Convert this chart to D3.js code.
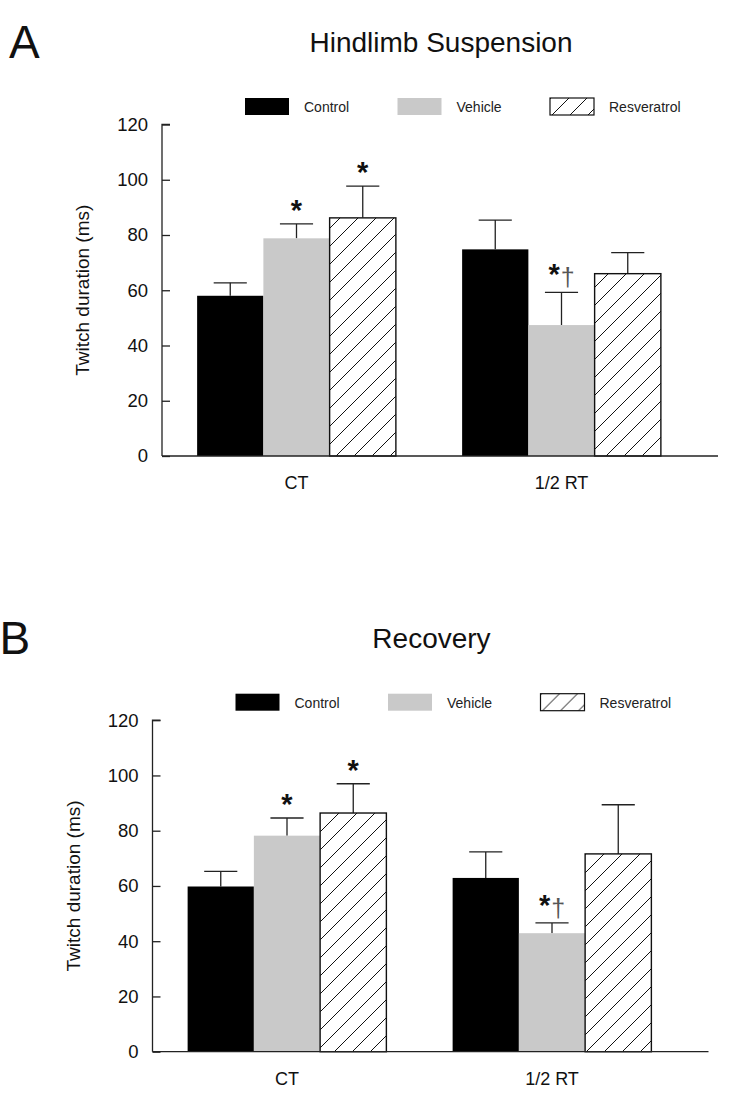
<!DOCTYPE html>
<html>
<head>
<meta charset="utf-8">
<script src="https://cdn.jsdelivr.net/npm/d3@7"></script>
<style>
  html, body { margin: 0; padding: 0; background: #fff; }
  svg { display: block; font-family: "Liberation Sans", Arial, Helvetica, sans-serif; }
</style>
</head>
<body>
<svg id="chart" width="736" height="1101"></svg>
<script>
// ---------- data ----------
const categories = ["CT", "1/2 RT"];
const series = ["Control", "Vehicle", "Resveratrol"];
const yTicks = [0, 20, 40, 60, 80, 100, 120];
const panelLetters = ["A", "B"];
const panelTitles = ["Hindlimb Suspension", "Recovery"];
const yLabel = "Twitch duration (ms)";

// Hindlimb Suspension: rows = categories, columns = series
const hsMeans  = [[58.0, 78.8, 86.2], [74.8, 47.4, 66.0]];
const hsErrors = [[4.7, 5.2, 11.5], [10.6, 11.8, 7.6]];
const hsMarks  = [["", "*", "*"], ["", "*†", ""]];

// Recovery
const recMeans  = [[59.8, 78.2, 86.4], [62.9, 42.9, 71.6]];
const recErrors = [[5.5, 6.4, 10.6], [9.4, 3.7, 17.8]];
const recMarks  = [["", "*", "*"], ["", "*†", ""]];

// ---------- drawing ----------
const svg = d3.select("#chart");
const defs = svg.append("defs");
const pat = defs.append("pattern")
  .attr("id", "hatch").attr("patternUnits", "userSpaceOnUse")
  .attr("width", 18).attr("height", 18);
pat.append("rect").attr("width", 18).attr("height", 18).attr("fill", "#fff");
pat.append("path")
  .attr("d", "M0,18 L18,0 M-4.5,4.5 L4.5,-4.5 M13.5,22.5 L22.5,13.5")
  .attr("stroke", "#111").attr("stroke-width", 1);

const fills = { "Control": "#000", "Vehicle": "#c9c9c9", "Resveratrol": "url(#hatch)" };
const strokes = { "Control": "none", "Vehicle": "none", "Resveratrol": "#111" };

const panels = [
  { letter: panelLetters[0], title: panelTitles[0], means: hsMeans, errors: hsErrors, marks: hsMarks, ax: 162, y0: 456 },
  { letter: panelLetters[1], title: panelTitles[1], means: recMeans, errors: recErrors, marks: recMarks, ax: 152.5, y0: 1051.7 }
];

const axisColor = "#222";

panels.forEach(p => {
  const g = svg.append("g");
  const y = d3.scaleLinear().domain([0, 120]).range([p.y0, p.y0 - 331.5]);
  const x0 = d3.scaleBand().domain(categories).range([p.ax + 2, p.ax + 532])
    .paddingInner(0.25).paddingOuter(0.125);
  const x1 = d3.scaleBand().domain(series).range([0, x0.bandwidth()]).padding(0);

  // panel letter and title
  g.append("text").attr("x", p.ax - 153).attr("y", p.y0 - 398)
    .attr("font-size", 46).attr("fill", "#111").text(p.letter);
  g.append("text").attr("x", p.ax + 279).attr("y", p.y0 - 404)
    .attr("text-anchor", "middle").attr("font-size", 28).attr("fill", "#111").text(p.title);

  // legend
  const lg = g.append("g").attr("transform", `translate(${p.ax + 83},${p.y0 - 358})`);
  series.forEach((s, i) => {
    const gx = i * 152.5;
    lg.append("rect").attr("x", gx).attr("y", 0).attr("width", 44).attr("height", 17)
      .attr("fill", fills[s]).attr("stroke", s === "Resveratrol" ? "#111" : "none").attr("stroke-width", 1.2);
    lg.append("text").attr("x", gx + 59).attr("y", 14).attr("font-size", 14)
      .attr("fill", "#222").text(s);
  });

  // bars
  categories.forEach((c, ci) => {
    series.forEach((s, si) => {
      const v = p.means[ci][si], e = p.errors[ci][si];
      const bx = x0(c) + x1(s), bw = x1.bandwidth();
      const cx = bx + bw / 2;
      // error bar (upper only)
      g.append("line").attr("x1", cx).attr("x2", cx).attr("y1", y(v)).attr("y2", y(v + e))
        .attr("stroke", axisColor).attr("stroke-width", 1.3);
      g.append("line").attr("x1", cx - bw / 4).attr("x2", cx + bw / 4)
        .attr("y1", y(v + e)).attr("y2", y(v + e))
        .attr("stroke", axisColor).attr("stroke-width", 1.3);
      g.append("rect").attr("x", bx).attr("y", y(v)).attr("width", bw).attr("height", y(0) - y(v))
        .attr("fill", fills[s]).attr("stroke", strokes[s]).attr("stroke-width", 1.4);
      const m = p.marks[ci][si];
      if (m) {
        const t = g.append("text").attr("x", cx).attr("text-anchor", "middle").attr("fill", "#111");
        if (m === "*") {
          t.attr("y", y(v + e) - 4).attr("font-size", 29).attr("font-weight", "bold").text("*");
        } else {
          t.attr("y", y(v + e) - 6);
          t.append("tspan").attr("font-size", 29).attr("font-weight", "bold").attr("dy", -2).text("*");
          t.append("tspan").attr("font-size", 25).attr("fill", "#555").attr("dx", 1).attr("dy", 2).text("†");
        }
      }
    });
  });

  // y axis
  const yAxis = d3.axisRight(y).tickValues(yTicks).tickSize(8).tickFormat(d3.format("d"));
  const ya = g.append("g").attr("transform", `translate(${p.ax},0)`).call(yAxis);
  ya.select(".domain").attr("d", `M8,${y(120)}H0V${y(0)}`).attr("stroke", axisColor).attr("stroke-width", 1.3);
  ya.selectAll(".tick line").attr("stroke", axisColor).attr("stroke-width", 1.3);
  ya.selectAll(".tick text").attr("x", -14).attr("text-anchor", "end")
    .attr("font-size", 18.5).attr("fill", "#111").attr("font-family", "Liberation Sans, Arial, sans-serif");

  // x axis
  const xAxis = d3.axisBottom(x0).tickSize(0).tickPadding(0);
  const xa = g.append("g").attr("transform", `translate(0,${p.y0})`).call(xAxis);
  xa.select(".domain").attr("d", `M${p.ax},0H${p.ax + 556}`).attr("stroke", axisColor).attr("stroke-width", 1.3);
  xa.selectAll(".tick text").attr("y", 33).attr("dy", 0).attr("font-size", 18).attr("fill", "#111")
    .attr("font-family", "Liberation Sans, Arial, sans-serif");

  // y label
  g.append("text")
    .attr("transform", `translate(${p.ax - 73},${(y(0) + y(120)) / 2}) rotate(-90)`)
    .attr("text-anchor", "middle").attr("font-size", 19).attr("fill", "#111").text(yLabel);
});
</script>
</body>
</html>
